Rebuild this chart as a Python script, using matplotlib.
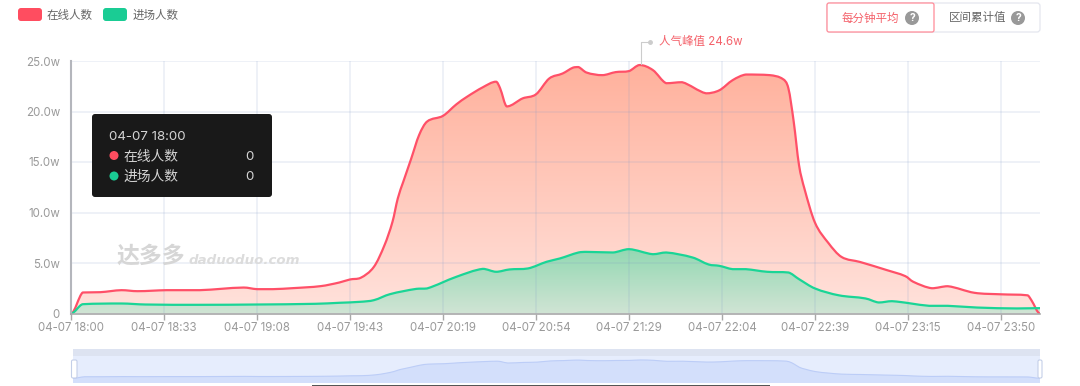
import numpy as np
import matplotlib
matplotlib.use("Agg")
import matplotlib.pyplot as plt
from matplotlib.path import Path
from matplotlib.patches import PathPatch, FancyBboxPatch, Rectangle, Circle

plt.rcParams['font.family'] = ['Inter', 'Noto Sans CJK SC', 'DejaVu Sans']

# minutes from 18:00 on the chart's category axis, values in units of 10k (w)
online_min = [0, 4.4, 11, 19, 25, 36, 48.5, 65, 70, 76, 83.5, 94, 101, 105, 109, 114, 118, 121, 123, 125, 128, 131, 134, 140, 145, 149, 155, 160, 161.5, 164, 170, 175, 180, 185, 189, 191, 194, 200, 205, 210, 214, 219, 224, 230, 239, 244, 249, 254, 263, 268, 270, 272, 274, 276, 280, 285, 290, 297, 307, 314, 317, 324, 330, 340, 350, 360, 361.5, 364.7]
online_val = [0, 2.08, 2.11, 2.31, 2.21, 2.31, 2.31, 2.57, 2.41, 2.41, 2.51, 2.71, 3.07, 3.37, 3.53, 4.62, 6.77, 9.08, 11.4, 13.0, 15.3, 17.66, 19.0, 19.57, 20.7, 21.45, 22.4, 22.95, 22.3, 20.5, 21.3, 21.7, 23.27, 23.76, 24.35, 24.4, 23.86, 23.6, 23.9, 24.0, 24.6, 24.1, 22.8, 22.9, 21.8, 22.1, 23.1, 23.66, 23.6, 23.2, 22.3, 19.0, 14.7, 12.4, 9.0, 7.0, 5.6, 5.1, 4.3, 3.7, 3.14, 2.5, 2.7, 2.05, 1.9, 1.8, 1.3, 0]
enter_min = [0, 4.4, 19, 28, 48.5, 70, 92, 101, 109, 114, 120, 130, 134, 145, 155, 160, 165, 172, 179, 184, 191, 194, 204, 210, 219, 224, 234, 240, 244, 249, 254, 262, 270, 274, 280, 289, 299, 304, 309, 323, 330, 341, 356, 364.7]
enter_val = [0, 0.92, 0.99, 0.89, 0.86, 0.89, 0.96, 1.06, 1.16, 1.32, 1.91, 2.44, 2.48, 3.63, 4.42, 4.13, 4.36, 4.46, 5.12, 5.45, 6.04, 6.1, 6.04, 6.37, 5.87, 6.04, 5.54, 4.85, 4.72, 4.39, 4.39, 4.13, 4.06, 3.4, 2.48, 1.8, 1.49, 1.09, 1.22, 0.76, 0.76, 0.59, 0.5, 0.53]
x_tick_pos = [0, 35, 70, 105, 140, 175, 210, 245, 280, 315, 350]
x_tick_labels = ['04-07 18:00', '04-07 18:33', '04-07 19:08', '04-07 19:43', '04-07 20:19', '04-07 20:54',
                 '04-07 21:29', '04-07 22:04', '04-07 22:39', '04-07 23:15', '04-07 23:50']
y_tick_pos = [0, 5, 10, 15, 20, 25]
y_tick_labels = ['0', '5.0w', '10.0w', '15.0w', '20.0w', '25.0w']
series_names = ['在线人数', '进场人数']
peak_label = '人气峰值 24.6w'
x_end = 364.7

RED = '#ff5068'
GREEN = '#1ad596'
W, H = 1080, 386
fig = plt.figure(figsize=(W / 100, H / 100), dpi=100)


def rect(l, t, r, b):
    return [l / W, 1 - b / H, (r - l) / W, (b - t) / H]


def smooth_path(xs, ys, close=False, base=0):
    xs, ys = np.asarray(xs, float), np.asarray(ys, float)
    n = len(xs)
    slope = np.zeros(n)
    slope[1:-1] = (ys[2:] - ys[:-2]) / (xs[2:] - xs[:-2])
    verts, codes = [(xs[0], ys[0])], [Path.MOVETO]
    for i in range(n - 1):
        dx = xs[i + 1] - xs[i]
        lo, hi = min(ys[i], ys[i + 1]), max(ys[i], ys[i + 1])
        c1 = (xs[i] + dx / 3, np.clip(ys[i] + slope[i] * dx / 3, lo, hi))
        c2 = (xs[i + 1] - dx / 3, np.clip(ys[i + 1] - slope[i + 1] * dx / 3, lo, hi))
        verts += [c1, c2, (xs[i + 1], ys[i + 1])]
        codes += [Path.CURVE4] * 3
    if close:
        verts += [(xs[-1], base), (xs[0], base), (xs[0], ys[0])]
        codes += [Path.LINETO, Path.LINETO, Path.CLOSEPOLY]
    return Path(verts, codes)


def gradient(ax, path, top_rgb, bottom_rgb, ytop, z):
    g = np.linspace(0, 1, 256)[:, None, None]
    a, b = np.array(top_rgb) / 255, np.array(bottom_rgb) / 255
    img = a + (b - a) * g
    im = ax.imshow(img, extent=(0, x_end, 0, ytop), aspect='auto', origin='upper', zorder=z, interpolation='bilinear')
    im.set_clip_path(PathPatch(path, transform=ax.transData))


ax = fig.add_axes(rect(71, 61, 1040, 313.5))
p_on = smooth_path(online_min, online_val, close=True)
p_en = smooth_path(enter_min, enter_val, close=True)
gradient(ax, p_on, (255, 176, 155), (255, 226, 220), 25, 1)
gradient(ax, p_en, (146, 216, 178), (208, 228, 212), 6.4, 2)
ax.add_patch(PathPatch(smooth_path(online_min, online_val), fc='none', ec=RED, lw=1.6, zorder=4, joinstyle='round'))
ax.add_patch(PathPatch(smooth_path(enter_min, enter_val), fc='none', ec=GREEN, lw=1.6, zorder=4, joinstyle='round'))
ax.set_xlim(0, x_end)
ax.set_ylim(0, 25)
ax.set_xticks(x_tick_pos, x_tick_labels)
ax.set_yticks(y_tick_pos, y_tick_labels)
ax.grid(True, color='#7f9ac8', alpha=0.17, lw=1.1, zorder=3)
ax.set_axisbelow(False)
for s in ('top', 'right'):
    ax.spines[s].set_visible(False)
ax.spines['left'].set(color='#b4b6bc', lw=1.5, zorder=5)
ax.spines['bottom'].set(color='#a8a8a8', lw=1.2, zorder=5)
ax.tick_params(axis='x', length=4, width=1, color='#a8a8a8', labelcolor='#9a9a9a', labelsize=8.3, pad=2)
ax.tick_params(axis='y', length=0, labelcolor='#9a9a9a', labelsize=8.3, pad=8)
for lab in ax.get_yticklabels() + ax.get_xticklabels():
    lab.set_zorder(10)

# slider, drawn from the online series
sl = fig.add_axes(rect(73, 356, 1040, 383))
sl.set_xlim(0, x_end)
sl.set_ylim(-6.3, 29.9)
sl.axis('off')
sl.add_patch(Rectangle((0, 0), 1, 1, transform=sl.transAxes, fc='#e6edfd', ec='none', zorder=0))
sl.add_patch(PathPatch(smooth_path(online_min, online_val, close=True, base=-6.3), fc='#d3dffb', ec='none', zorder=1))
sl.add_patch(PathPatch(smooth_path(online_min, online_val), fc='none', ec='#bccdf7', lw=0.8, zorder=2))

ov = fig.add_axes([0, 0, 1, 1], zorder=20)
ov.set_xlim(0, W)
ov.set_ylim(H, 0)
ov.axis('off')
ov.patch.set_alpha(0)


def rbox(l, t, r, b, rad, **kw):
    ov.add_patch(FancyBboxPatch((l + rad, t + rad), r - l - 2 * rad, b - t - 2 * rad,
                                boxstyle=f'round,pad={rad},rounding_size={rad}', **kw))


# legend
rbox(18, 8, 42, 21, 3, fc='#ff4d60', ec='none')
rbox(103, 8, 127, 21, 3, fc='#1acc94', ec='none')
ov.text(47, 16, series_names[0], color='#666666', fontsize=8.3, va='center')
ov.text(133, 16, series_names[1], color='#666666', fontsize=8.3, va='center')

# buttons
rbox(827, 3, 1040, 32, 3, fc='white', ec='#e4e6ee', lw=0.9)
rbox(827, 3, 934, 32, 2, fc='white', ec='#ff8b98', lw=0.9)
ov.text(842, 18.5, '每分钟平均', color='#f4616a', fontsize=8.3, va='center')
ov.text(949, 18.5, '区间累计值', color='#666666', fontsize=8.3, va='center')
for cx in (912, 1018):
    ov.add_patch(Circle((cx, 18), 7, fc='#999999', ec='none'))
    ov.text(cx, 17.6, '?', color='white', fontsize=7.5, weight='bold', ha='center', va='center')

# peak marker
ov.plot([641, 641, 650], [64, 41.5, 41.5], color='#cccccc', lw=0.8)
ov.plot([650], [41.5], 'o', color='#cccccc', ms=2.5)
ov.text(659, 42.5, peak_label, color='#f4616a', fontsize=8.3, va='center')

# tooltip
rbox(92, 114, 272, 197, 3, fc='#191919', ec='none')
ov.text(109, 136.5, '04-07 18:00', color='#d4d4d4', fontsize=9.6, va='center')
ov.add_patch(Circle((114, 155.5), 4.5, fc='#ff4d60', ec='none'))
ov.add_patch(Circle((114, 176), 4.5, fc='#1acc94', ec='none'))
ov.text(123, 156.5, series_names[0], color='#d4d4d4', fontsize=9.9, va='center')
ov.text(123, 177, series_names[1], color='#d4d4d4', fontsize=9.9, va='center')
ov.text(254, 156.5, '0', color='#d4d4d4', fontsize=9.6, va='center', ha='right')
ov.text(254, 177, '0', color='#d4d4d4', fontsize=9.6, va='center', ha='right')

# watermark
ov.text(116, 256, '达多多', color='#d6d6d6', fontsize=16.5, weight='bold', style='italic', va='center',
        family=['Noto Sans CJK SC', 'DejaVu Sans'])
ov.text(189, 260, 'daduoduo.com', color='#dcdcdc', fontsize=9.6, weight='bold', style='italic',
        va='center', family='DejaVu Sans')

# slider furniture
ov.add_patch(Rectangle((73, 349), 967, 7, fc='#dde3f1', ec='none'))
rbox(71.5, 360, 77, 378, 1.5, fc='white', ec='#c4cfe8', lw=0.8)
rbox(1038, 360, 1042, 378, 1.5, fc='white', ec='#c4cfe8', lw=0.8)
ov.add_patch(Rectangle((312, 384.5), 458, 2, fc='#555555', ec='none'))

fig.savefig('out.png', dpi=100)
